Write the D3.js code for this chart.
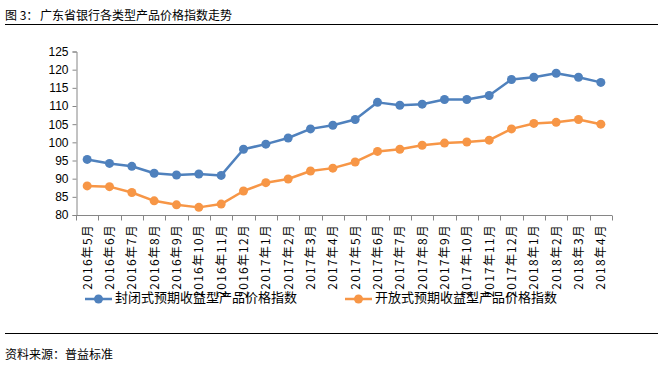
<!DOCTYPE html>
<html>
<head>
<meta charset="utf-8">
<script src="https://cdn.jsdelivr.net/npm/d3@7"></script>
<style>
    body { margin: 0; background: #fff; }
    svg { display: block; }
    text { font-family: "Noto Sans CJK SC", "Liberation Sans", sans-serif; fill: #000; }
    .num { font-family: "Liberation Sans", "Noto Sans", sans-serif; }
</style>
</head>
<body>
<div id="chart"></div>
<script>
// Months on the x axis
const months = [
    "2016年5月", "2016年6月", "2016年7月", "2016年8月", "2016年9月", "2016年10月",
    "2016年11月", "2016年12月", "2017年1月", "2017年2月", "2017年3月", "2017年4月",
    "2017年5月", "2017年6月", "2017年7月", "2017年8月", "2017年9月", "2017年10月",
    "2017年11月", "2017年12月", "2018年1月", "2018年2月", "2018年3月", "2018年4月"
];

// 封闭式预期收益型产品价格指数
const closedIndex = [
    95.3, 94.2, 93.4, 91.5, 91.0, 91.3, 90.9, 98.1, 99.5, 101.2, 103.7, 104.7,
    106.3, 111.0, 110.2, 110.5, 111.8, 111.8, 112.9, 117.3, 117.9, 119.0, 117.9, 116.5
];

// 开放式预期收益型产品价格指数
const openIndex = [
    88.0, 87.8, 86.2, 83.9, 82.8, 82.1, 83.0, 86.6, 88.9, 89.9, 92.1, 92.9,
    94.6, 97.5, 98.1, 99.2, 99.8, 100.1, 100.6, 103.7, 105.2, 105.5, 106.3, 105.0
];

const yTicks = [80, 85, 90, 95, 100, 105, 110, 115, 120, 125];

const seriesNames = ["封闭式预期收益型产品价格指数", "开放式预期收益型产品价格指数"];
const seriesColors = ["#4F81BD", "#F79646"];

const W = 662, H = 369;
const svg = d3.select("#chart").append("svg")
    .attr("width", W)
    .attr("height", H);

// Title and top rule
const title = svg.append("text")
    .attr("y", 19.5)
    .attr("font-size", 12);
title.append("tspan").attr("x", 5).text("图 3：");
title.append("tspan").attr("x", 40).text("广东省银行各类型产品价格指数走势");

svg.append("line")
    .attr("x1", 5).attr("x2", 658)
    .attr("y1", 24.5).attr("y2", 24.5)
    .attr("stroke", "#000")
    .attr("stroke-width", 1);

// Scales
const plotLeft = 76, plotRight = 612;
const x = d3.scaleBand()
    .domain(months)
    .range([plotLeft, plotRight]);

const y = d3.scaleLinear()
    .domain([80, 125])
    .range([215, 51.5]);

const axisColor = "#868686";

// Y axis
const yAxis = svg.append("g")
    .attr("transform", `translate(${plotLeft + 0.5},0)`)
    .call(d3.axisLeft(y).tickValues(yTicks).tickSize(4).tickPadding(4));
yAxis.select(".domain").attr("stroke", axisColor);
yAxis.selectAll(".tick line").attr("stroke", axisColor);
yAxis.selectAll(".tick text")
    .attr("class", "num")
    .attr("font-size", 12)
    .attr("fill", "#000");

// X axis: ticks at category boundaries
const xAxisG = svg.append("g").attr("transform", `translate(0,${y(80) + 0.5})`);
xAxisG.append("line")
    .attr("x1", plotLeft).attr("x2", plotRight)
    .attr("stroke", axisColor);
xAxisG.selectAll(".bnd")
    .data(months.concat(["end"]))
    .join("line")
    .attr("class", "bnd")
    .attr("x1", (d, i) => Math.round(plotLeft + i * x.step()) + 0.5)
    .attr("x2", (d, i) => Math.round(plotLeft + i * x.step()) + 0.5)
    .attr("y1", 0).attr("y2", 5)
    .attr("stroke", axisColor);

// Rotated month labels
svg.selectAll(".xlab")
    .data(months)
    .join("text")
    .attr("class", "xlab")
    .attr("font-size", 12)
    .attr("letter-spacing", "1.2px")
    .attr("text-anchor", "end")
    .attr("transform", d => `translate(${x(d) + x.bandwidth() / 2 + 4.5},224) rotate(-90)`)
    .text(d => d);

// Lines and markers
const allSeries = [closedIndex, openIndex];
const line = d3.line()
    .x((d, i) => x(months[i]) + x.bandwidth() / 2)
    .y(d => y(d));

allSeries.forEach((vals, s) => {
    svg.append("path")
        .datum(vals)
        .attr("d", line)
        .attr("fill", "none")
        .attr("stroke", seriesColors[s])
        .attr("stroke-width", 2.5)
        .attr("stroke-linejoin", "round");

    svg.selectAll(".pt" + s)
        .data(vals)
        .join("circle")
        .attr("class", "pt" + s)
        .attr("cx", (d, i) => x(months[i]) + x.bandwidth() / 2)
        .attr("cy", d => y(d))
        .attr("r", 4.5)
        .attr("fill", seriesColors[s]);
});

// Legend
const legendX = [85, 345];
seriesNames.forEach((name, s) => {
    const g = svg.append("g").attr("transform", `translate(${legendX[s]},299)`);
    g.append("line")
        .attr("x1", 0).attr("x2", 27)
        .attr("stroke", seriesColors[s])
        .attr("stroke-width", 2.5);
    g.append("circle")
        .attr("cx", 13.5)
        .attr("r", 4.5)
        .attr("fill", seriesColors[s]);
    g.append("text")
        .attr("x", 30)
        .attr("y", 3)
        .attr("font-size", 13)
        .text(name);
});

// Bottom rule and source
svg.append("line")
    .attr("x1", 5).attr("x2", 658)
    .attr("y1", 333.5).attr("y2", 333.5)
    .attr("stroke", "#000")
    .attr("stroke-width", 1);

svg.append("text")
    .attr("x", 5)
    .attr("y", 359)
    .attr("font-size", 12)
    .text("资料来源：普益标准");
</script>
</body>
</html>
